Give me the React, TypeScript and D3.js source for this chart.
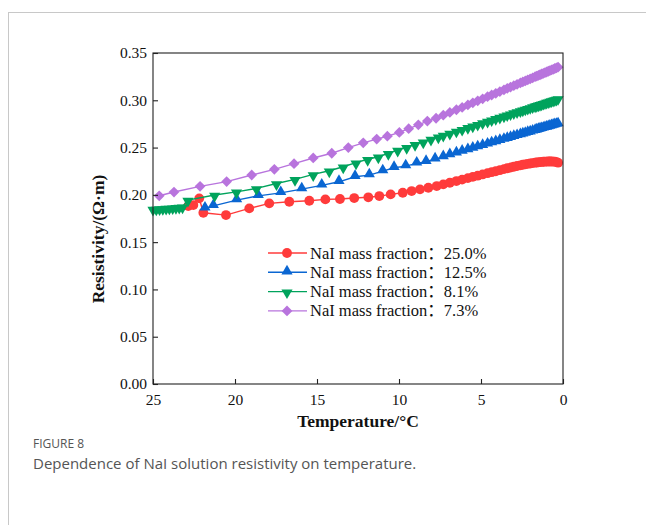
import React, { useRef, useEffect } from "react";
import * as d3 from "d3";

// temperatures (°C) of the closely spaced readings near 0 °C, shared by all series
const denseTemps = [7.3, 6.9, 6.5, 6.15, 5.8, 5.5, 5.2, 4.9, 4.6, 4.35, 4.1, 3.85, 3.6, 3.4, 3.2, 3.0, 2.8, 2.6, 2.45, 2.3, 2.15, 2.0, 1.85, 1.7, 1.6, 1.5, 1.4, 1.3, 1.2, 1.1, 1.0, 0.9, 0.8, 0.7, 0.6, 0.5, 0.4, 0.3];

// NaI 25.0 %
const redTemps = [22.85, 22.54, 22.18, 21.93, 20.55, 19.13, 17.91, 16.69, 15.47, 14.49, 13.6, 12.73, 11.87, 11.2, 10.51, 9.77, 9.23, 8.72, 8.21, 7.7];
const redValues = [0.1882, 0.1892, 0.1963, 0.1811, 0.1786, 0.1857, 0.191, 0.1927, 0.1938, 0.1952, 0.1956, 0.1966, 0.1974, 0.1987, 0.2005, 0.2022, 0.204, 0.2058, 0.2075, 0.2093];
const redDense = [0.2111, 0.2128, 0.2146, 0.2161, 0.2177, 0.219, 0.2203, 0.2216, 0.2229, 0.224, 0.225, 0.2261, 0.2272, 0.2281, 0.2289, 0.2297, 0.2305, 0.2312, 0.2318, 0.2323, 0.2328, 0.2332, 0.2336, 0.234, 0.2342, 0.2344, 0.2346, 0.2348, 0.235, 0.2351, 0.2352, 0.2353, 0.2353, 0.2353, 0.2352, 0.2351, 0.2346, 0.234];

// NaI 12.5 %
const blueTemps = [21.83, 21.32, 19.9, 18.58, 17.21, 15.93, 14.71, 13.66, 12.68, 11.81, 10.99, 10.3, 9.59, 8.92, 8.35, 7.8];
const blueValues = [0.1857, 0.1884, 0.1945, 0.1989, 0.2021, 0.2061, 0.21, 0.2138, 0.2191, 0.2209, 0.2251, 0.2286, 0.2304, 0.2333, 0.235, 0.2376];
const blueDense = [0.2401, 0.2421, 0.244, 0.2458, 0.2475, 0.249, 0.2505, 0.252, 0.2534, 0.2547, 0.2559, 0.2572, 0.2584, 0.2594, 0.2604, 0.2614, 0.2624, 0.2633, 0.2641, 0.2648, 0.2656, 0.2663, 0.2671, 0.2678, 0.2683, 0.2688, 0.2693, 0.2698, 0.2703, 0.2708, 0.2713, 0.2718, 0.2723, 0.2728, 0.2733, 0.2738, 0.2743, 0.2748];

// NaI 8.1 %
const greenTemps = [25.0, 24.8, 24.6, 24.4, 24.2, 24.0, 23.8, 23.6, 23.4, 23.2, 22.87, 21.24, 19.91, 18.69, 17.47, 16.34, 15.23, 14.25, 13.4, 12.62, 11.91, 11.26, 10.65, 10.08, 9.53, 9.02, 8.52, 8.05, 7.6];
const greenValues = [0.185, 0.1852, 0.1855, 0.1857, 0.186, 0.1862, 0.1865, 0.1868, 0.1871, 0.1875, 0.1945, 0.1998, 0.2032, 0.2068, 0.212, 0.2164, 0.2216, 0.2255, 0.2297, 0.234, 0.2376, 0.2403, 0.2439, 0.2474, 0.2503, 0.2535, 0.2562, 0.2591, 0.2615];
const greenDense = [0.2632, 0.2654, 0.2676, 0.2695, 0.2715, 0.2731, 0.2748, 0.2765, 0.2781, 0.2795, 0.2809, 0.2823, 0.2837, 0.2848, 0.2859, 0.287, 0.2881, 0.2892, 0.29, 0.2909, 0.2917, 0.2925, 0.2934, 0.2942, 0.2947, 0.2953, 0.2958, 0.2964, 0.297, 0.2975, 0.2981, 0.2986, 0.2992, 0.2997, 0.3003, 0.3008, 0.3014, 0.302];

// NaI 7.3 %
const purpleTemps = [24.62, 23.72, 22.13, 20.51, 18.98, 17.6, 16.4, 15.23, 14.1, 13.09, 12.18, 11.36, 10.71, 9.98, 9.41, 8.82, 8.27, 7.74];
const purpleValues = [0.199, 0.203, 0.209, 0.214, 0.221, 0.227, 0.233, 0.239, 0.244, 0.25, 0.255, 0.259, 0.262, 0.266, 0.27, 0.274, 0.278, 0.281];
const purpleDense = [0.2842, 0.2871, 0.29, 0.2925, 0.2951, 0.2973, 0.2994, 0.3016, 0.3038, 0.3056, 0.3074, 0.3092, 0.3111, 0.3125, 0.314, 0.3154, 0.3169, 0.3183, 0.3194, 0.3205, 0.3216, 0.3227, 0.3238, 0.3249, 0.3256, 0.3263, 0.327, 0.3278, 0.3285, 0.3292, 0.3299, 0.3307, 0.3314, 0.3321, 0.3328, 0.3336, 0.3343, 0.335];

const seriesLabels = ["NaI mass fraction：25.0%", "NaI mass fraction：12.5%", "NaI mass fraction：8.1%", "NaI mass fraction：7.3%"];
const xTicks = [25, 20, 15, 10, 5, 0];
const yTicks = [0, 0.05, 0.1, 0.15, 0.2, 0.25, 0.3, 0.35];

const serif = "'Liberation Serif', 'Times New Roman', 'Noto Sans CJK SC', serif";

const series = [
  { temps: redTemps.concat(denseTemps), values: redValues.concat(redDense), color: "#ff3b3b", shape: "circle" },
  { temps: blueTemps.concat(denseTemps), values: blueValues.concat(blueDense), color: "#0a66d2", shape: "up" },
  { temps: greenTemps.concat(denseTemps), values: greenValues.concat(greenDense), color: "#00a35c", shape: "down" },
  { temps: purpleTemps.concat(denseTemps), values: purpleValues.concat(purpleDense), color: "#b874dd", shape: "diamond" },
];

function markerPath(shape: string) {
  if (shape === "circle") return d3.symbol(d3.symbolCircle, 76)();
  if (shape === "diamond") return d3.symbol(d3.symbolSquare, 58)();
  return d3.symbol(d3.symbolTriangle, 54)();
}

function markerTransform(shape: string, x: number, y: number) {
  if (shape === "down") return `translate(${x},${y + 1}) rotate(180)`;
  if (shape === "up") return `translate(${x},${y - 1})`;
  if (shape === "diamond") return `translate(${x},${y}) rotate(45)`;
  return `translate(${x},${y})`;
}

export default function App() {
  const xAxisRef = useRef<SVGGElement>(null);
  const yAxisRef = useRef<SVGGElement>(null);

  const left = 153, right = 563, top = 53, bottom = 384;
  const x = d3.scaleLinear().domain([25, 0]).range([left, right]);
  const y = d3.scaleLinear().domain([0, 0.35]).range([bottom, top]);

  useEffect(() => {
    const xa = d3.select(xAxisRef.current);
    xa.call(d3.axisBottom(x).tickValues(xTicks).tickSizeInner(-5).tickSizeOuter(0).tickPadding(10).tickFormat(d3.format("d")) as any);
    const ya = d3.select(yAxisRef.current);
    ya.call(d3.axisLeft(y).tickValues(yTicks).tickSizeInner(-5).tickSizeOuter(0).tickPadding(6).tickFormat(d3.format(".2f")) as any);
    [xa, ya].forEach(g => {
      g.select(".domain").remove();
      g.selectAll("line").attr("stroke", "#222").attr("stroke-width", 1.1);
      g.selectAll("text").attr("font-family", serif).attr("font-size", 15.5).attr("fill", "#111");
    });
  }, []);

  const line = d3.line<[number, number]>().x(d => x(d[0])).y(d => y(d[1]));

  return (
    <svg width={646} height={525} style={{ position: "absolute", left: 0, top: 0, background: "#fff" }}>
      <rect x={8.5} y={12.5} width={700} height={600} fill="none" stroke="#c8c8c8" />

      {series.map((s, i) => {
        const pts = s.temps.map((t, j) => [t, s.values[j]] as [number, number]);
        return (
          <g key={i}>
            <path d={line(pts) || ""} fill="none" stroke={s.color} strokeWidth={1.4} />
            {pts.map((p, j) => (
              <path key={j} d={markerPath(s.shape) || ""} transform={markerTransform(s.shape, x(p[0]), y(p[1]))} fill={s.color} />
            ))}
          </g>
        );
      })}

      <rect x={left} y={top} width={right - left} height={bottom - top} fill="none" stroke="#222" strokeWidth={1.1} />
      <g ref={xAxisRef} transform={`translate(0,${bottom})`} />
      <g ref={yAxisRef} transform={`translate(${left},0)`} />

      <text x={358} y={427} textAnchor="middle" fontFamily={serif} fontWeight="bold" fontSize={17.5} fill="#111">Temperature/°C</text>
      <text transform="translate(104,239) rotate(-90)" textAnchor="middle" fontFamily={serif} fontWeight="bold" fontSize={17.5} fill="#111">Resistivity/(Ω·m)</text>

      {series.map((s, i) => {
        const ly = 253 + i * 19.3;
        return (
          <g key={i}>
            <line x1={268} x2={307} y1={ly} y2={ly} stroke={s.color} strokeWidth={1.4} />
            <path d={markerPath(s.shape) || ""} transform={markerTransform(s.shape, 287, ly)} fill={s.color} />
            <text x={310} y={ly + 5.5} fontFamily={serif} fontSize={16.5} fill="#111">{seriesLabels[i]}</text>
          </g>
        );
      })}

      <text x={33} y={448} fontFamily="'Open Sans', 'Noto Sans', sans-serif" fontSize={12} fill="#555">FIGURE 8</text>
      <text x={33} y={469} fontFamily="'Open Sans', 'Noto Sans', sans-serif" fontSize={15} fill="#555">Dependence of NaI solution resistivity on temperature.</text>
    </svg>
  );
}
